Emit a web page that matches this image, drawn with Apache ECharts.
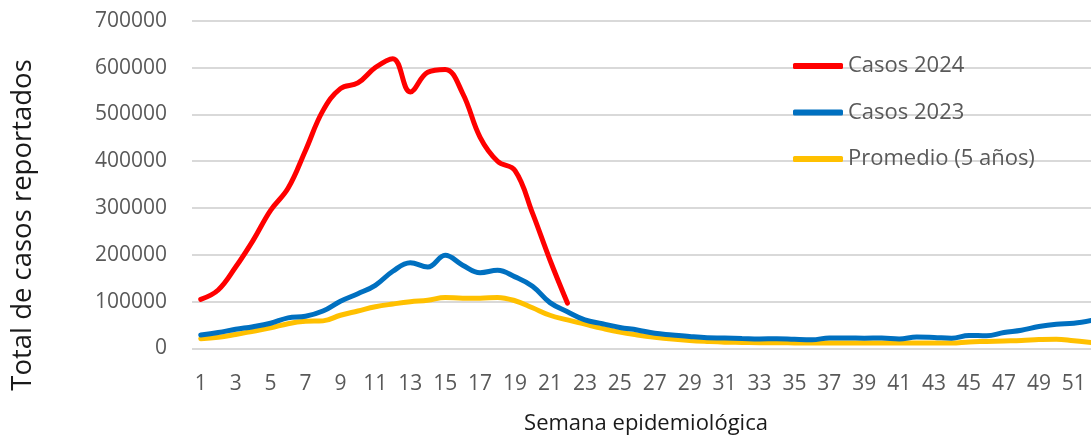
<!DOCTYPE html>
<html>
<head>
<meta charset="utf-8">
<script src="https://cdn.jsdelivr.net/npm/echarts@6/dist/echarts.min.js"></script>
<style>
html,body{margin:0;padding:0;background:#fff;}
#chart{width:1091px;height:438px;}
</style>
</head>
<body>
<div id="chart"></div>
<script>
const weeks = Array.from({length: 52}, (_, i) => String(i + 1));
const casos2024 = [105000,125000,174000,231000,295000,342000,423000,508000,555000,567000,600000,619000,548000,590000,596000,545000,451000,400000,380000,289000,189000,97000];
const casos2023 = [29000,34000,41000,46500,54000,65500,69000,80000,101000,117000,135000,165000,183000,174000,199000,178000,162000,167000,153000,133000,98000,78500,61000,53000,45000,39500,32500,29000,25500,23000,22500,21500,20500,21000,19500,18500,22500,22500,22000,22500,20500,24500,23500,22000,28000,27000,34000,39000,47000,52000,54000,60000];
const promedio = [21000,24000,30000,37000,44000,53000,58000,59000,71000,80000,89000,95000,100000,103000,109000,107500,107500,109000,102000,87000,71000,61000,52000,43000,35000,29000,24000,20000,17000,15000,13500,13000,12500,12500,12000,11500,12000,12000,11500,11500,11500,12000,12000,11500,14000,15000,16000,17000,19000,20000,16500,13000];
const yTicks = {min: 0, max: 700000, interval: 100000};
const yTitle = 'Total de casos reportados';
const xTitle = 'Semana epidemiológica';

const chart = echarts.init(document.getElementById('chart'), null, {renderer: 'canvas'});
const FONT = 'Open Sans';
chart.setOption({
  animation: false,
  backgroundColor: '#ffffff',
  grid: {left: 192, top: 20.7, bottom: 89.5, width: 908, containLabel: false, outerBoundsMode: 'none'},
  legend: {
    orient: 'vertical',
    left: 793,
    top: 55,
    padding: 0,
    itemWidth: 50,
    itemHeight: 6,
    itemGap: 24.5,
    icon: 'roundRect',
    data: ['Casos 2024', 'Casos 2023', 'Promedio (5 años)'],
    textStyle: {fontFamily: FONT, fontSize: 22, color: '#595959'}
  },
  graphic: [{
    type: 'text',
    x: 23, y: 225,
    rotation: Math.PI / 2,
    style: {text: yTitle, fontFamily: FONT, fontSize: 27.5, fill: '#1a1a1a', align: 'center', verticalAlign: 'middle'}
  }],
  xAxis: {
    type: 'category',
    data: weeks,
    boundaryGap: true,
    axisLine: {show: false},
    axisTick: {show: false},
    axisLabel: {interval: 1, margin: 25, fontFamily: FONT, fontSize: 21, color: '#595959'},
    name: xTitle,
    nameLocation: 'middle',
    nameGap: 64,
    nameTextStyle: {fontFamily: FONT, fontSize: 22, color: '#1a1a1a'}
  },
  yAxis: {
    type: 'value',
    min: yTicks.min,
    max: yTicks.max,
    interval: yTicks.interval,
    axisLine: {show: false},
    axisTick: {show: false},
    splitLine: {lineStyle: {color: '#d9d9d9', width: 2}},
    axisLabel: {margin: 25, fontFamily: FONT, fontSize: 21, color: '#595959', formatter: v => String(v)}
  },
  series: [
    {name: 'Promedio (5 años)', type: 'line', data: promedio, smooth: 0.4, symbol: 'none',
     lineStyle: {color: '#FFC000', width: 5, cap: 'round'}, itemStyle: {color: '#FFC000'}},
    {name: 'Casos 2023', type: 'line', data: casos2023, smooth: 0.4, symbol: 'none',
     lineStyle: {color: '#0070C0', width: 5, cap: 'round'}, itemStyle: {color: '#0070C0'}},
    {name: 'Casos 2024', type: 'line', data: casos2024, smooth: 0.4, symbol: 'none',
     lineStyle: {color: '#FF0000', width: 5, cap: 'round'}, itemStyle: {color: '#FF0000'}}
  ]
});
</script>
</body>
</html>
